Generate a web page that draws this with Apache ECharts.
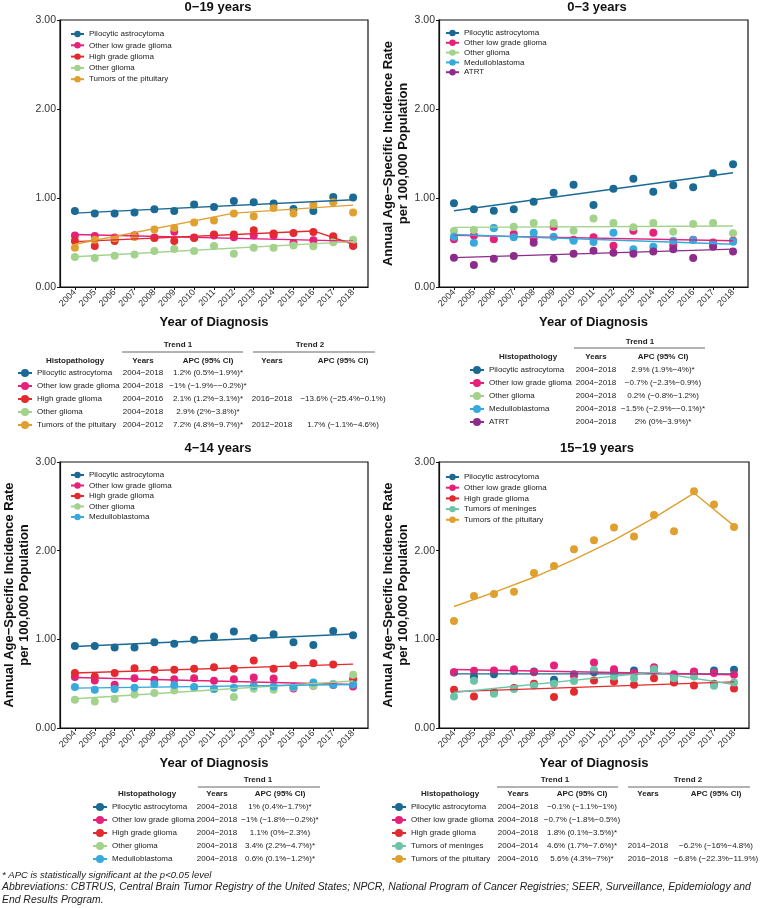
<!DOCTYPE html>
<html>
<head>
<meta charset="utf-8">
<script src="https://cdn.jsdelivr.net/npm/echarts@6/dist/echarts.min.js"></script>
<style>
  html, body { margin: 0; padding: 0; background: #fff; }
  #chart { width: 760px; height: 908px; }
</style>
</head>
<body>
<div id="chart"></div>
<script>
const years = [2004, 2005, 2006, 2007, 2008, 2009, 2010, 2011, 2012, 2013, 2014, 2015, 2016, 2017, 2018];
const panelTitles = ['0−19 years', '0−3 years', '4−14 years', '15−19 years'];
const yAxisTitle = 'Annual Age−Specific Incidence Rate\nper 100,000 Population';
const xAxisTitle = 'Year of Diagnosis';

// 0-19 years
const all_pilocytic = [0.855, 0.825, 0.825, 0.836, 0.874, 0.855, 0.926, 0.90, 0.967, 0.952, 0.937, 0.877, 0.855, 1.012, 1.005];
const all_otherLowGrade = [0.58, 0.574, 0.555, 0.58, 0.555, 0.62, 0.555, 0.58, 0.56, 0.58, 0.58, 0.495, 0.525, 0.55, 0.476];
const all_highGrade = [0.517, 0.461, 0.517, 0.58, 0.551, 0.517, 0.551, 0.589, 0.589, 0.637, 0.60, 0.607, 0.619, 0.57, 0.461];
const all_otherGlioma = [0.337, 0.326, 0.352, 0.364, 0.405, 0.427, 0.405, 0.461, 0.375, 0.442, 0.442, 0.465, 0.457, 0.502, 0.532];
const all_pituitary = [0.442, 0.532, 0.547, 0.562, 0.645, 0.664, 0.724, 0.746, 0.825, 0.795, 0.889, 0.825, 0.922, 0.952, 0.836];
const all_pilocyticFit = [[2004, 0.83], [2018, 0.98]];
const all_otherLowGradeFit = [[2004, 0.59], [2018, 0.515]];
const all_highGradeFit = [[2004, 0.51], [2016, 0.63], [2018, 0.48]];
const all_otherGliomaFit = [[2004, 0.34], [2018, 0.51]];
const all_pituitaryFit = [[2004, 0.48], [2012, 0.83], [2018, 0.92]];

// 0-3 years
const inf_pilocytic = [0.94, 0.873, 0.857, 0.873, 0.959, 1.06, 1.15, 0.921, 1.105, 1.217, 1.071, 1.142, 1.12, 1.277, 1.378];
const inf_otherLowGrade = [0.536, 0.58, 0.536, 0.596, 0.546, 0.678, 0.53, 0.558, 0.464, 0.633, 0.61, 0.47, 0.53, 0.50, 0.52];
const inf_otherGlioma = [0.629, 0.64, 0.66, 0.678, 0.719, 0.719, 0.633, 0.771, 0.719, 0.67, 0.719, 0.622, 0.708, 0.719, 0.603];
const inf_medullo = [0.565, 0.498, 0.663, 0.558, 0.61, 0.565, 0.52, 0.505, 0.61, 0.423, 0.453, 0.52, 0.528, 0.48, 0.509];
const inf_atrt = [0.33, 0.247, 0.318, 0.348, 0.498, 0.318, 0.374, 0.408, 0.385, 0.374, 0.40, 0.423, 0.326, 0.453, 0.40];
const inf_pilocyticFit = [[2004, 0.857], [2018, 1.284]];
const inf_otherLowGradeFit = [[2004, 0.58], [2018, 0.52]];
const inf_otherGliomaFit = [[2004, 0.67], [2018, 0.685]];
const inf_medulloFit = [[2004, 0.59], [2018, 0.48]];
const inf_atrtFit = [[2004, 0.33], [2018, 0.425]];

// 4-14 years
const kid_pilocytic = [0.926, 0.926, 0.907, 0.907, 0.967, 0.949, 0.994, 1.031, 1.087, 1.016, 1.057, 0.967, 0.937, 1.095, 1.046];
const kid_otherLowGrade = [0.574, 0.536, 0.487, 0.562, 0.544, 0.551, 0.562, 0.532, 0.551, 0.57, 0.559, 0.446, 0.476, 0.484, 0.469];
const kid_highGrade = [0.619, 0.58, 0.619, 0.675, 0.656, 0.656, 0.667, 0.686, 0.667, 0.761, 0.667, 0.709, 0.731, 0.716, 0.55];
const kid_otherGlioma = [0.319, 0.30, 0.326, 0.379, 0.394, 0.424, 0.457, 0.439, 0.349, 0.442, 0.431, 0.457, 0.476, 0.499, 0.60];
const kid_medullo = [0.461, 0.431, 0.439, 0.454, 0.495, 0.484, 0.461, 0.439, 0.454, 0.476, 0.469, 0.465, 0.514, 0.487, 0.491];
const kid_pilocyticFit = [[2004, 0.92], [2018, 1.06]];
const kid_otherLowGradeFit = [[2004, 0.57], [2018, 0.49]];
const kid_highGradeFit = [[2004, 0.62], [2018, 0.72]];
const kid_otherGliomaFit = [[2004, 0.33], [2018, 0.53]];
const kid_medulloFit = [[2004, 0.45], [2018, 0.49]];

// 15-19 years
const ado_pilocytic = [0.626, 0.581, 0.607, 0.645, 0.637, 0.544, 0.607, 0.63, 0.634, 0.649, 0.656, 0.581, 0.63, 0.649, 0.656];
const ado_otherLowGrade = [0.63, 0.645, 0.649, 0.664, 0.63, 0.705, 0.589, 0.739, 0.664, 0.62, 0.686, 0.607, 0.637, 0.619, 0.60];
const ado_highGrade = [0.431, 0.356, 0.40, 0.45, 0.499, 0.349, 0.409, 0.536, 0.525, 0.487, 0.562, 0.514, 0.48, 0.50, 0.446];
const ado_meninges = [0.356, 0.532, 0.386, 0.439, 0.48, 0.499, 0.529, 0.656, 0.581, 0.562, 0.664, 0.562, 0.581, 0.476, 0.514];
const ado_pituitary = [1.207, 1.489, 1.511, 1.537, 1.747, 1.826, 2.017, 2.118, 2.261, 2.16, 2.403, 2.219, 2.67, 2.52, 2.268];
const ado_pilocyticFit = [[2004, 0.61], [2018, 0.61]];
const ado_otherLowGradeFit = [[2004, 0.66], [2018, 0.60]];
const ado_highGradeFit = [[2004, 0.41], [2018, 0.52]];
const ado_meningesFit = [[2004, 0.40], [2014, 0.63], [2018, 0.49]];
const ado_pituitaryFit = [[2004, 1.37], [2006, 1.53], [2008, 1.70], [2010, 1.90], [2012, 2.12], [2014, 2.37], [2016, 2.65], [2018, 2.28]];

// APC tables: [years, APC] for trend 1 and trend 2
const all_table = [
  ['2004−2018', '1.2% (0.5%−1.9%)*', '', ''],
  ['2004−2018', '−1% (−1.9%−−0.2%)*', '', ''],
  ['2004−2016', '2.1% (1.2%−3.1%)*', '2016−2018', '−13.6% (−25.4%−0.1%)'],
  ['2004−2018', '2.9% (2%−3.8%)*', '', ''],
  ['2004−2012', '7.2% (4.8%−9.7%)*', '2012−2018', '1.7% (−1.1%−4.6%)']
];
const inf_table = [
  ['2004−2018', '2.9% (1.9%−4%)*'],
  ['2004−2018', '−0.7% (−2.3%−0.9%)'],
  ['2004−2018', '0.2% (−0.8%−1.2%)'],
  ['2004−2018', '−1.5% (−2.9%−−0.1%)*'],
  ['2004−2018', '2% (0%−3.9%)*']
];
const kid_table = [
  ['2004−2018', '1% (0.4%−1.7%)*'],
  ['2004−2018', '−1% (−1.8%−−0.2%)*'],
  ['2004−2018', '1.1% (0%−2.3%)'],
  ['2004−2018', '3.4% (2.2%−4.7%)*'],
  ['2004−2018', '0.6% (0.1%−1.2%)*']
];
const ado_table = [
  ['2004−2018', '−0.1% (−1.1%−1%)', '', ''],
  ['2004−2018', '−0.7% (−1.8%−0.5%)', '', ''],
  ['2004−2018', '1.8% (0.1%−3.5%)*', '', ''],
  ['2004−2014', '4.6% (1.7%−7.6%)*', '2014−2018', '−6.2% (−16%−4.8%)'],
  ['2004−2016', '5.6% (4.3%−7%)*', '2016−2018', '−6.8% (−22.3%−11.9%)']
];

const footnotes = [
  '* APC is statistically significant at the p<0.05 level',
  'Abbreviations: CBTRUS, Central Brain Tumor Registry of the United States; NPCR, National Program of Cancer Registries; SEER, Surveillance, Epidemiology and',
  'End Results Program.'
];

const names = {
  pilo: 'Pilocytic astrocytoma',
  lgg: 'Other low grade glioma',
  hgg: 'High grade glioma',
  og: 'Other glioma',
  pit: 'Tumors of the pituitary',
  med: 'Medulloblastoma',
  atrt: 'ATRT',
  men: 'Tumors of meninges'
};
const colors = {
  pilo: '#1b6a94',
  lgg: '#e5217a',
  hgg: '#e32a2e',
  og: '#a3d28c',
  pit: '#e0a030',
  med: '#38a9dc',
  atrt: '#8d2c8a',
  men: '#6cc3a8'
};

const FONT = "'Liberation Sans', Arial, Helvetica, sans-serif";
const ROW = 13;

const panels = [
  {
    grid: { left: 60, top: 20, width: 308, height: 267 },
    titleX: 218, titleY: 7, yName: false,
    items: [['pilo', all_pilocytic, all_pilocyticFit], ['lgg', all_otherLowGrade, all_otherLowGradeFit],
            ['hgg', all_highGrade, all_highGradeFit], ['og', all_otherGlioma, all_otherGliomaFit],
            ['pit', all_pituitary, all_pituitaryFit]],
    legend: { left: 70, top: 30, gap: 3.3 },
    table: { rows: all_table, legendLeft: 17, rowY: 373, headY: 361, trendY: 345, lineY: 352,
             histX: 75, cols: [143, 208, 272, 343], trends: [[178, 122, 243], [310, 253, 375]] }
  },
  {
    grid: { left: 439, top: 20, width: 309, height: 267 },
    titleX: 597, titleY: 7, yName: true,
    items: [['pilo', inf_pilocytic, inf_pilocyticFit], ['lgg', inf_otherLowGrade, inf_otherLowGradeFit],
            ['og', inf_otherGlioma, inf_otherGliomaFit], ['med', inf_medullo, inf_medulloFit],
            ['atrt', inf_atrt, inf_atrtFit]],
    legend: { left: 445, top: 29, gap: 1.8 },
    table: { rows: inf_table, legendLeft: 469, rowY: 370, headY: 357, trendY: 342, lineY: 348,
             histX: 528, cols: [596, 663], trends: [[640, 574, 705]] }
  },
  {
    grid: { left: 60, top: 462, width: 308, height: 266 },
    titleX: 218, titleY: 448, yName: true,
    items: [['pilo', kid_pilocytic, kid_pilocyticFit], ['lgg', kid_otherLowGrade, kid_otherLowGradeFit],
            ['hgg', kid_highGrade, kid_highGradeFit], ['og', kid_otherGlioma, kid_otherGliomaFit],
            ['med', kid_medullo, kid_medulloFit]],
    legend: { left: 70, top: 471, gap: 2.5 },
    table: { rows: kid_table, legendLeft: 92, rowY: 807, headY: 794, trendY: 780, lineY: 787,
             histX: 147, cols: [217, 280], trends: [[258, 198, 320]] }
  },
  {
    grid: { left: 439, top: 462, width: 310, height: 266 },
    titleX: 597, titleY: 448, yName: true,
    items: [['pilo', ado_pilocytic, ado_pilocyticFit], ['lgg', ado_otherLowGrade, ado_otherLowGradeFit],
            ['hgg', ado_highGrade, ado_highGradeFit], ['men', ado_meninges, ado_meningesFit],
            ['pit', ado_pituitary, ado_pituitaryFit]],
    legend: { left: 445, top: 473, gap: 2.7 },
    table: { rows: ado_table, legendLeft: 391, rowY: 807, headY: 794, trendY: 780, lineY: 787,
             histX: 450, cols: [518, 582, 648, 716], trends: [[555, 497, 618], [688, 628, 750]] }
  }
];

function txt(text, x, y, opts) {
  opts = opts || {};
  return {
    type: 'text', silent: true,
    style: {
      text: text, x: x, y: y,
      fill: opts.color || '#222',
      fontSize: opts.size || 8,
      fontWeight: opts.bold ? 'bold' : 'normal',
      fontStyle: opts.italic ? 'italic' : 'normal',
      fontFamily: FONT,
      align: opts.align || 'center',
      textAlign: opts.align || 'center',
      verticalAlign: 'middle',
      textVerticalAlign: 'middle'
    }
  };
}

const grid = [], xAxis = [], yAxis = [], legend = [], lineSeries = [], pointSeries = [], graphic = [];

panels.forEach((p, i) => {
  grid.push(Object.assign({ show: true, borderColor: '#111', borderWidth: 1.2, backgroundColor: 'transparent' }, p.grid));
  xAxis.push({
    type: 'value', gridIndex: i, min: 2003.25, max: 2018.75,
    name: xAxisTitle, nameLocation: 'middle', nameGap: 29,
    nameTextStyle: { fontSize: 13, fontWeight: 'bold', color: '#111', fontFamily: FONT },
    axisLine: { show: true, onZero: false, lineStyle: { color: '#111', width: 1.2 } },
    axisTick: { show: true, customValues: years, length: 3, lineStyle: { color: '#111' } },
    axisLabel: { customValues: years, rotate: 45, fontSize: 9, color: '#333', margin: 4,
                 fontFamily: FONT, formatter: v => String(v) },
    splitLine: { show: false }
  });
  yAxis.push({
    type: 'value', gridIndex: i, min: 0, max: 3, interval: 1,
    name: p.yName ? yAxisTitle : '', nameLocation: 'middle', nameGap: 25,
    nameTextStyle: { fontSize: 13, fontWeight: 'bold', color: '#111', lineHeight: 15, fontFamily: FONT },
    axisLine: { show: true, lineStyle: { color: '#111', width: 1.2 } },
    axisTick: { show: true, length: 3, lineStyle: { color: '#111' } },
    axisLabel: { fontSize: 10.5, color: '#333', margin: 4, fontFamily: FONT, formatter: v => v.toFixed(2) },
    splitLine: { show: false }
  });

  const legendNames = p.items.map(it => names[it[0]]);
  legend.push({
    orient: 'vertical', left: p.legend.left, top: p.legend.top, itemGap: p.legend.gap,
    itemWidth: 13, itemHeight: 8, padding: 0, selectedMode: false,
    textStyle: { fontSize: 8, color: '#222', fontFamily: FONT },
    data: legendNames
  });
  // table first column (icon + histopathology); rows are about 8px tall
  legend.push({
    orient: 'vertical', left: p.table.legendLeft, top: p.table.rowY - 4, itemGap: ROW - 8,
    itemWidth: 14, itemHeight: 10, padding: 0, selectedMode: false,
    textStyle: { fontSize: 8, color: '#222', fontFamily: FONT },
    data: legendNames
  });

  p.items.forEach(it => {
    const key = it[0], vals = it[1], fit = it[2];
    lineSeries.push({
      type: 'line', name: names[key], xAxisIndex: i, yAxisIndex: i, data: fit,
      symbol: 'circle', showSymbol: false, silent: true, z: 3,
      lineStyle: { color: colors[key], width: 1.4 }, itemStyle: { color: colors[key] }
    });
    pointSeries.push({
      type: 'scatter', name: names[key], xAxisIndex: i, yAxisIndex: i,
      data: years.map((y, k) => [y, vals[k]]),
      symbol: 'circle', symbolSize: 8, silent: true, z: 2,
      itemStyle: { color: colors[key], opacity: 1 }
    });
  });

  // titles
  graphic.push(txt(panelTitles[i], p.titleX, p.titleY, { size: 13, bold: true, color: '#111' }));

  // table
  const t = p.table;
  t.trends.forEach((tr, k) => {
    graphic.push(txt('Trend ' + (k + 1), tr[0], t.trendY, { bold: true }));
    graphic.push({ type: 'line', silent: true, shape: { x1: tr[1], y1: t.lineY, x2: tr[2], y2: t.lineY },
                   style: { stroke: '#666', lineWidth: 1 } });
  });
  graphic.push(txt('Histopathology', t.histX, t.headY, { bold: true }));
  t.cols.forEach((cx, k) => {
    graphic.push(txt(k % 2 === 0 ? 'Years' : 'APC (95% CI)', cx, t.headY, { bold: true }));
  });
  t.rows.forEach((row, r) => {
    row.forEach((cell, k) => {
      if (cell) graphic.push(txt(cell, t.cols[k], t.rowY + r * ROW));
    });
  });
});

const footSizes = [9.5, 10.4, 10.4];
footnotes.forEach((f, k) => {
  graphic.push(txt(f, 2, 875 + k * 12.5, { size: footSizes[k], italic: true, align: 'left', color: '#222' }));
});

const option = {
  animation: false,
  backgroundColor: '#fff',
  textStyle: { fontFamily: FONT },
  grid: grid,
  xAxis: xAxis,
  yAxis: yAxis,
  legend: legend,
  series: lineSeries.concat(pointSeries),
  graphic: graphic
};

const chart = echarts.init(document.getElementById('chart'));
chart.setOption(option);
</script>
</body>
</html>
